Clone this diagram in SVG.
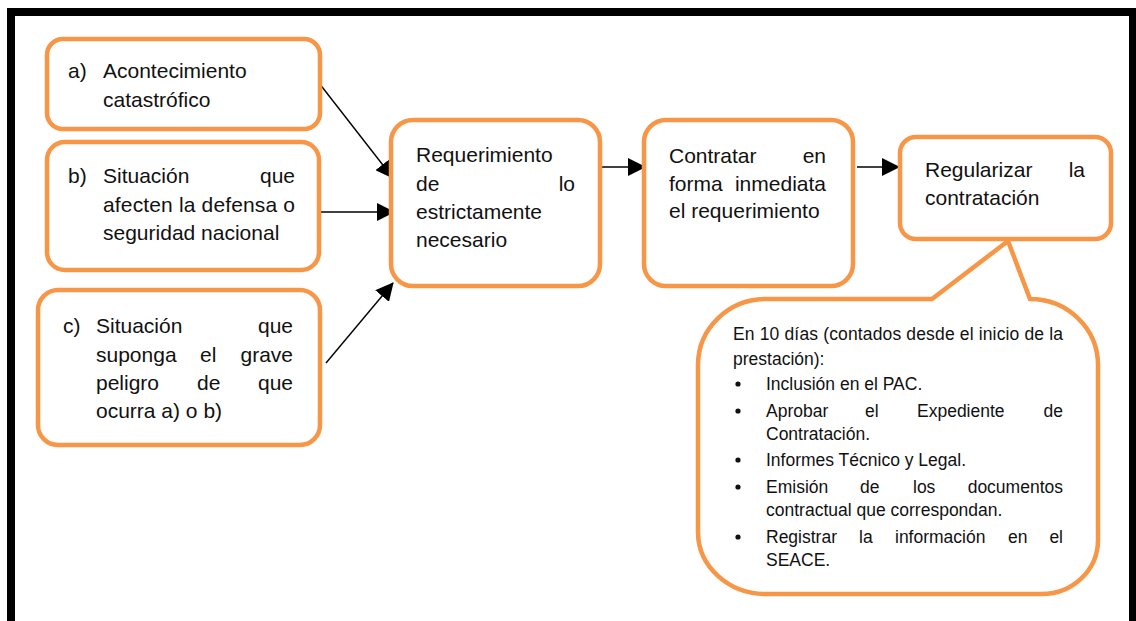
<svg xmlns="http://www.w3.org/2000/svg" width="1136" height="621" viewBox="0 0 1136 621">
<style>
.box{fill:#fff;stroke:#F79646;stroke-width:4.5}
.t{font-family:"Liberation Sans",Arial,sans-serif;font-size:21px;fill:#111}
.s{font-family:"Liberation Sans",Arial,sans-serif;font-size:17.5px;fill:#111}
.e{text-anchor:end}
.c{stroke:#000;stroke-width:1.4;fill:none}
</style>
<defs>
<marker id="ah" markerWidth="18" markerHeight="18" refX="17" refY="9" orient="auto" markerUnits="userSpaceOnUse">
<path d="M0,0 L18,9 L0,18 Z" fill="#000"/>
</marker>
</defs>
<rect x="0" y="0" width="1136" height="621" fill="#fff"/>
<rect x="11" y="12" width="1122" height="700" fill="none" stroke="#000" stroke-width="8"/>

<g id="connectors">
<line class="c" x1="319" y1="83" x2="393" y2="178" marker-end="url(#ah)"/>
<line class="c" x1="321" y1="212" x2="394" y2="212" marker-end="url(#ah)"/>
<line class="c" x1="326" y1="363" x2="393" y2="283" marker-end="url(#ah)"/>
<line class="c" x1="602" y1="167" x2="645" y2="167" marker-end="url(#ah)"/>
<line class="c" x1="857" y1="167" x2="899" y2="167" marker-end="url(#ah)"/>
</g>

<g id="node-a">
<rect class="box" x="47" y="39" width="273" height="90" rx="16"/>
<text class="t" x="68" y="78">a)</text>
<text class="t" x="103" y="78">Acontecimiento</text>
<text class="t" x="103" y="107">catastrófico</text>
</g>

<g id="node-b">
<rect class="box" x="47" y="142" width="272" height="128" rx="18"/>
<text class="t" x="68" y="183">b)</text>
<text class="t" x="103" y="183">Situación</text>
<text class="t e" x="295" y="183">que</text>
<text class="t" x="103" y="212" textLength="192" lengthAdjust="spacing">afecten la defensa o</text>
<text class="t" x="103" y="240">seguridad nacional</text>
</g>

<g id="node-c">
<rect class="box" x="38" y="290" width="282" height="155" rx="20"/>
<text class="t" x="63" y="333">c)</text>
<text class="t" x="96" y="333">Situación</text>
<text class="t e" x="293" y="333">que</text>
<text class="t" x="96" y="362">suponga</text>
<text class="t" x="200" y="362">el</text>
<text class="t e" x="293" y="362">grave</text>
<text class="t" x="96" y="390">peligro</text>
<text class="t" x="197" y="390">de</text>
<text class="t e" x="293" y="390">que</text>
<text class="t" x="96" y="418">ocurra a) o b)</text>
</g>

<g id="node-req">
<rect class="box" x="391" y="120" width="209" height="166" rx="22"/>
<text class="t" x="416" y="162">Requerimiento</text>
<text class="t" x="416" y="191">de</text>
<text class="t e" x="575" y="191">lo</text>
<text class="t" x="416" y="219">estrictamente</text>
<text class="t" x="416" y="247">necesario</text>
</g>

<g id="node-contratar">
<rect class="box" x="644" y="120" width="209" height="166" rx="22"/>
<text class="t" x="669" y="163">Contratar</text>
<text class="t e" x="826" y="163">en</text>
<text class="t" x="669" y="191">forma</text>
<text class="t e" x="826" y="191">inmediata</text>
<text class="t" x="669" y="218">el requerimiento</text>
</g>

<g id="node-regularizar">
<rect class="box" x="900" y="137" width="211" height="102" rx="16"/>
<text class="t" x="925" y="177">Regularizar</text>
<text class="t e" x="1085" y="177">la</text>
<text class="t" x="925" y="205">contratación</text>
</g>

<g id="node-callout">
<path class="box" d="M766,299 L932,299 L1008,241 L1030,299 A68,66 0 0 1 1098,365 L1098,540 A56,54 0 0 1 1042,594 L766,594 A68,62 0 0 1 698,532 L698,365 A68,66 0 0 1 766,299 Z"/>
<text class="s" x="733" y="340" textLength="330" lengthAdjust="spacing">En 10 días (contados desde el inicio de la</text>
<text class="s" x="733" y="365">prestación):</text>
<g fill="#111">
<circle cx="738" cy="384" r="2.6"/>
<circle cx="738" cy="411" r="2.6"/>
<circle cx="738" cy="460" r="2.6"/>
<circle cx="738" cy="487" r="2.6"/>
<circle cx="738" cy="537" r="2.6"/>
</g>
<text class="s" x="766" y="390">Inclusión en el PAC.</text>
<text class="s" x="766" y="417">Aprobar</text>
<text class="s" x="865" y="417">el</text>
<text class="s" x="917" y="417">Expediente</text>
<text class="s e" x="1063" y="417">de</text>
<text class="s" x="766" y="440">Contratación.</text>
<text class="s" x="766" y="466">Informes Técnico y Legal.</text>
<text class="s" x="766" y="493">Emisión</text>
<text class="s" x="860" y="493">de</text>
<text class="s" x="913" y="493">los</text>
<text class="s e" x="1063" y="493">documentos</text>
<text class="s" x="766" y="516">contractual que correspondan.</text>
<text class="s" x="766" y="543">Registrar</text>
<text class="s" x="859" y="543">la</text>
<text class="s" x="895" y="543">información</text>
<text class="s" x="1008" y="543">en</text>
<text class="s e" x="1063" y="543">el</text>
<text class="s" x="766" y="566">SEACE.</text>
</g>
</svg>
